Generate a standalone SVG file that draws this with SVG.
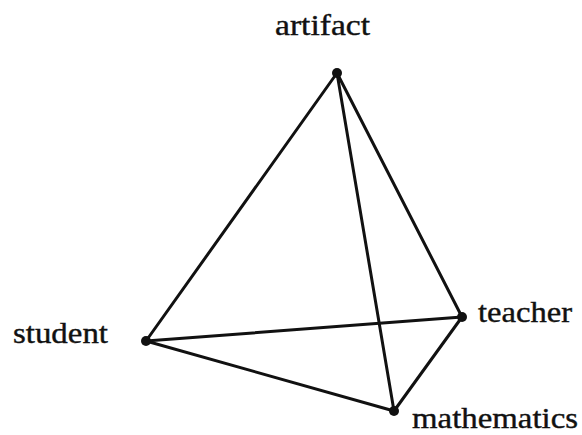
<svg xmlns="http://www.w3.org/2000/svg" width="582" height="435" viewBox="0 0 582 435">
<style>
.e{stroke:#111;stroke-width:3;stroke-linecap:round;fill:none}
.v{fill:#111}
.t{font-family:'Liberation Serif',serif;font-size:30px;fill:#111;stroke:#111;stroke-width:0.4}
</style>
<rect width="582" height="435" fill="#fff"/>
<g id="connectors">
<line class="e" x1="337" y1="73" x2="146" y2="341"/>
<line class="e" x1="337" y1="73" x2="462" y2="317"/>
<line class="e" x1="337" y1="73" x2="394" y2="411"/>
<line class="e" x1="146" y1="341" x2="462" y2="317"/>
<line class="e" x1="146" y1="341" x2="394" y2="411"/>
<line class="e" x1="462" y1="317" x2="394" y2="411"/>
</g>
<g id="artifact"><circle class="v" cx="337" cy="73" r="5"/><text class="t" x="275" y="35" textLength="95" lengthAdjust="spacingAndGlyphs">artifact</text></g>
<g id="student"><circle class="v" cx="146" cy="341" r="5"/><text class="t" x="13" y="343" textLength="95" lengthAdjust="spacingAndGlyphs">student</text></g>
<g id="teacher"><circle class="v" cx="462" cy="317" r="5"/><text class="t" x="478" y="322" textLength="94" lengthAdjust="spacingAndGlyphs">teacher</text></g>
<g id="mathematics"><circle class="v" cx="394" cy="411" r="5"/><text class="t" x="412" y="428" textLength="166" lengthAdjust="spacingAndGlyphs">mathematics</text></g>
</svg>
